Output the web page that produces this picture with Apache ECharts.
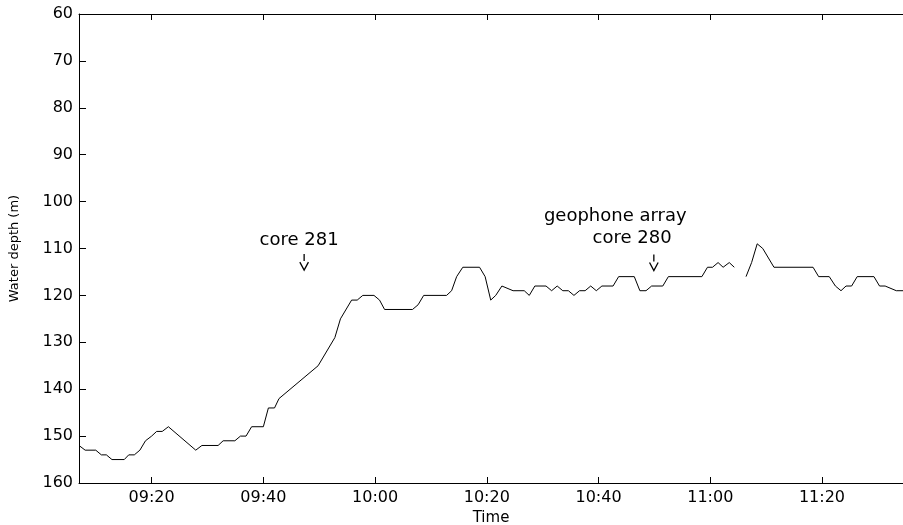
<!DOCTYPE html>
<html>
<head>
<meta charset="utf-8">
<script src="https://cdn.jsdelivr.net/npm/echarts@6/dist/echarts.min.js"></script>
<style>html,body{margin:0;padding:0;background:#fff;}#chart{width:903px;height:525px;}</style>
</head>
<body>
<div id="chart"></div>
<script>
// Time in minutes after 09:00, water depth in metres
const times1 = [7.0, 8.1, 10.0, 11.0, 11.9, 12.9, 15.1, 15.9, 16.9, 17.9, 18.9, 20.0, 20.9, 21.9, 23.0, 27.9, 29.0, 31.9, 32.8, 34.9, 35.9, 36.9, 37.9, 40.0, 40.9, 42.0, 42.8, 49.8, 52.8, 53.8, 55.8, 56.8, 57.8, 59.8, 60.8, 61.7, 66.7, 67.7, 68.7, 72.8, 73.7, 74.6, 75.7, 78.7, 79.7, 80.7, 81.6, 82.7, 84.7, 86.7, 87.6, 88.6, 90.6, 91.6, 92.6, 93.6, 94.6, 95.6, 96.6, 97.6, 98.6, 99.6, 100.6, 102.6, 103.6, 106.4, 107.4, 108.5, 109.5, 111.5, 112.5, 118.5, 119.5, 120.4, 121.4, 122.3, 123.4, 124.3];
const depths1 = [152, 153, 153, 154, 154, 155, 155, 154, 154, 153, 151, 150, 149, 149, 148, 153, 152, 152, 151, 151, 150, 150, 148, 148, 144, 144, 142, 135, 129, 125, 121, 121, 120, 120, 121, 123, 123, 122, 120, 120, 119, 116, 114, 114, 116, 121, 120, 118, 119, 119, 120, 118, 118, 119, 118, 119, 119, 120, 119, 119, 118, 119, 118, 118, 116, 116, 119, 119, 118, 118, 116, 116, 114, 114, 113, 114, 113, 114];
const times2 = [126.4, 127.4, 128.4, 129.4, 131.4, 138.4, 139.4, 141.3, 142.4, 143.4, 144.3, 145.3, 146.3, 149.3, 150.3, 151.3, 153.3, 154.6];
const depths2 = [116, 113, 109, 110, 114, 114, 116, 116, 118, 119, 118, 118, 116, 116, 118, 118, 119, 119];
const xTickValues = [20, 40, 60, 80, 100, 120, 140];
const arrowTimes = [47.3, 109.9];
const arrowDepths = [114.6, 114.7];
const noteTexts = ['core 281', 'geophone array', 'core 280'];
const noteTimes = [46.4, 103.0, 106.0];
const noteDepths = [108.2, 103.2, 107.9];

function fmt(m) {
  const h = 9 + Math.floor(m / 60);
  const mm = Math.round(m % 60);
  return String(h).padStart(2, '0') + ':' + String(mm).padStart(2, '0');
}
const FONT = 'DejaVu Sans';
const chart = echarts.init(document.getElementById('chart'), null, {renderer: 'canvas'});
const xCommon = {
  type: 'value', min: 7, max: 154.5,
  axisLine: {show: true, lineStyle: {color: '#000', width: 1}},
  splitLine: {show: false}
};
chart.setOption({
  animation: false,
  backgroundColor: '#fff',
  grid: {left: 79, right: 0, top: 14, bottom: 42, containLabel: false, outerBoundsMode: 'none'},
  xAxis: [
    Object.assign({}, xCommon, {
      position: 'bottom',
      name: 'Time', nameLocation: 'middle', nameGap: 19,
      nameTextStyle: {color: '#000', fontFamily: FONT, fontSize: 15},
      axisTick: {show: true, inside: true, length: 6, customValues: xTickValues, lineStyle: {color: '#000'}},
      axisLabel: {show: true, customValues: xTickValues, formatter: fmt, color: '#000', fontFamily: FONT, fontSize: 16, margin: 7}
    }),
    Object.assign({}, xCommon, {
      position: 'top',
      axisTick: {show: true, inside: true, length: 6, customValues: xTickValues, lineStyle: {color: '#000'}},
      axisLabel: {show: false}
    })
  ],
  yAxis: {
    type: 'value', inverse: true, min: 60, max: 160, interval: 10,
    name: 'Water depth (m)', nameLocation: 'middle', nameGap: 58, nameRotate: 90,
    nameTextStyle: {color: '#000', fontFamily: FONT, fontSize: 13},
    axisLine: {show: true, lineStyle: {color: '#000', width: 1}},
    axisTick: {show: true, inside: true, length: 7, lineStyle: {color: '#000'}},
    axisLabel: {color: '#000', fontFamily: FONT, fontSize: 16, margin: 6},
    splitLine: {show: false}
  },
  series: [
    {type: 'line', xAxisIndex: 0, data: times1.map((t, i) => [t, depths1[i]]), showSymbol: false, symbol: 'none',
     lineStyle: {color: '#000', width: 1}},
    {type: 'line', xAxisIndex: 0, data: times2.map((t, i) => [t, depths2[i]]), showSymbol: false, symbol: 'none',
     lineStyle: {color: '#000', width: 1}},
    {type: 'custom', xAxisIndex: 0, clip: false, data: arrowTimes.map((t, i) => [t, arrowDepths[i]]),
     renderItem: function (params, api) {
       const p = api.coord([api.value(0), api.value(1)]);
       return {type: 'group', children: [
         {type: 'line', shape: {x1: p[0], y1: p[1] - 16, x2: p[0], y2: p[1] - 9}, style: {stroke: '#000', lineWidth: 1.3}},
         {type: 'polyline', shape: {points: [[p[0] - 4.3, p[1] - 8], [p[0], p[1]], [p[0] + 4.3, p[1] - 8]]}, style: {stroke: '#000', fill: null, lineWidth: 1.3}}
       ]};
     }},
    {type: 'custom', xAxisIndex: 0, clip: false, data: noteTimes.map((t, i) => [t, noteDepths[i]]),
     renderItem: function (params, api) {
       const p = api.coord([api.value(0), api.value(1)]);
       return {type: 'text', x: p[0], y: p[1], style: {text: noteTexts[params.dataIndex], fill: '#000', font: '18px "' + FONT + '"', align: 'center', verticalAlign: 'middle'}};
     }}
  ]
});
</script>
</body>
</html>
